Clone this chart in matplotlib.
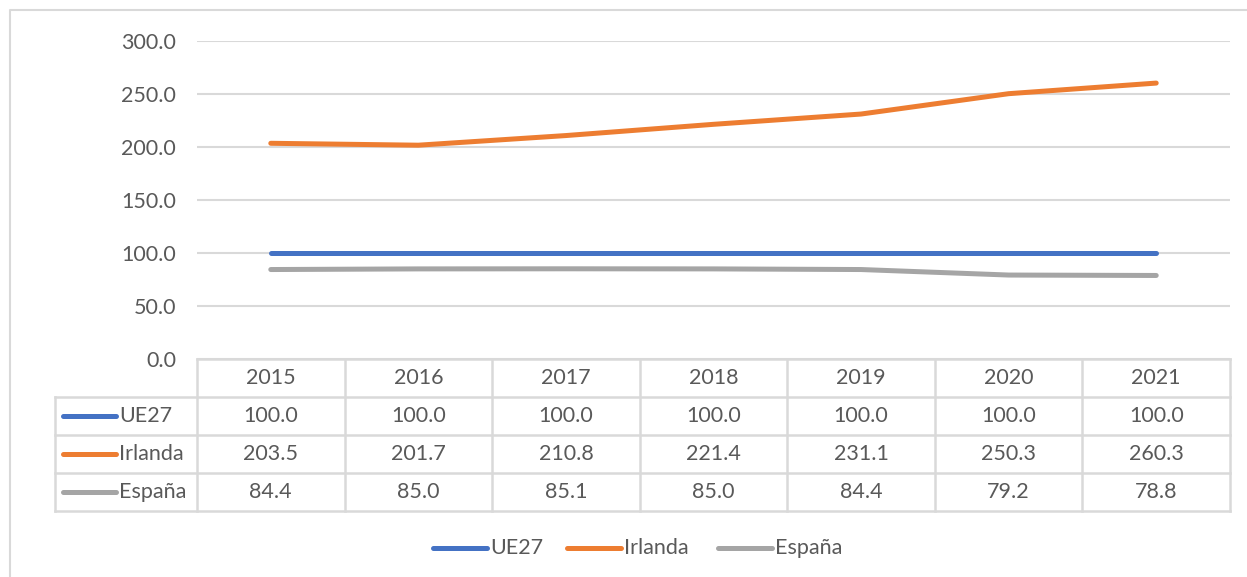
#plot.py - line chart with data table underneath (Excel style)

import numpy as np
import matplotlib
matplotlib.use("Agg")
import matplotlib.pyplot as plt

plt.rcParams['font.family'] = ['Lato', 'DejaVu Sans']

# data
years = ["2015", "2016", "2017", "2018", "2019", "2020", "2021"]
ue27 = [100.0, 100.0, 100.0, 100.0, 100.0, 100.0, 100.0]
irlanda = [203.5, 201.7, 210.8, 221.4, 231.1, 250.3, 260.3]
espana = [84.4, 85.0, 85.1, 85.0, 84.4, 79.2, 78.8]
names = ["UE27", "Irlanda", "España"]
colors = ["#4472C4", "#ED7D31", "#A5A5A5"]
series = [ue27, irlanda, espana]

W, H = 1247, 577
txt = "#595959"
grid_c = "#d9d9d9"
fs = 15.5

fig = plt.figure(figsize=(W / 100, H / 100), dpi=100)

# plot area in pixels
x0, x1 = 197, 1230
y_top, y_bot = 41, 359
ax = fig.add_axes([x0 / W, 1 - y_bot / H, (x1 - x0) / W, (y_bot - y_top) / H])
x = np.arange(len(years))
for s, c in zip(series, colors):
    ax.plot(x, s, color=c, lw=3.6, solid_capstyle='round', zorder=3)
ax.set_xlim(-0.5, len(years) - 0.5)
ax.set_ylim(0, 300)
ax.set_yticks(np.arange(0, 301, 50))
ax.set_yticklabels([f"{v:.1f}" for v in np.arange(0, 301, 50)], color=txt, fontsize=fs)
ax.tick_params(axis='y', length=0, pad=15)
ax.set_xticks([])
ax.grid(axis='y', color=grid_c, lw=1.5)
for sp in ax.spines.values():
    sp.set_visible(False)

# overlay in pixel coords for the table, legend and border
ov = fig.add_axes([0, 0, 1, 1])
ov.set_xlim(0, W)
ov.set_ylim(H, 0)
ov.axis('off')
ov.patch.set_alpha(0)

# outer border
ov.plot([10, 10, W], [H, 10, 10], color=grid_c, lw=1.5)

# table
row_h = 38
col_w = (x1 - x0) / len(years)
lab_x = 55
rows_y = [y_bot + row_h * k for k in range(5)]
ov.plot([x0, x1], [rows_y[0], rows_y[0]], color=grid_c, lw=1.8)
for ry in rows_y[1:]:
    ov.plot([lab_x, x1], [ry, ry], color=grid_c, lw=1.8)
ov.plot([lab_x, lab_x], [rows_y[1], rows_y[4]], color=grid_c, lw=1.8)
for k in range(len(years) + 1):
    cx = x0 + k * col_w
    ov.plot([cx, cx], [rows_y[0], rows_y[4]], color=grid_c, lw=1.8)

for k, yr in enumerate(years):
    ov.text(x0 + (k + 0.5) * col_w, rows_y[0] + row_h / 2, yr, ha='center', va='center',
            color=txt, fontsize=fs)
for r, (nm, s, c) in enumerate(zip(names, series, colors)):
    cy = rows_y[r + 1] + row_h / 2
    ov.plot([63, 116], [cy, cy], color=c, lw=3.6, solid_capstyle='round')
    ov.text(119, cy, nm, ha='left', va='center', color=txt, fontsize=fs)
    for k, v in enumerate(s):
        ov.text(x0 + (k + 0.5) * col_w, cy, f"{v:.1f}", ha='center', va='center',
                color=txt, fontsize=fs)

# legend at bottom
leg_y = 548
leg_x = [433, 567, 718]
for lx, nm, c in zip(leg_x, names, colors):
    ov.plot([lx, lx + 54], [leg_y, leg_y], color=c, lw=3.6, solid_capstyle='round')
    ov.text(lx + 57, leg_y, nm, ha='left', va='center', color=txt, fontsize=fs)

fig.savefig("out.png", dpi=100)
